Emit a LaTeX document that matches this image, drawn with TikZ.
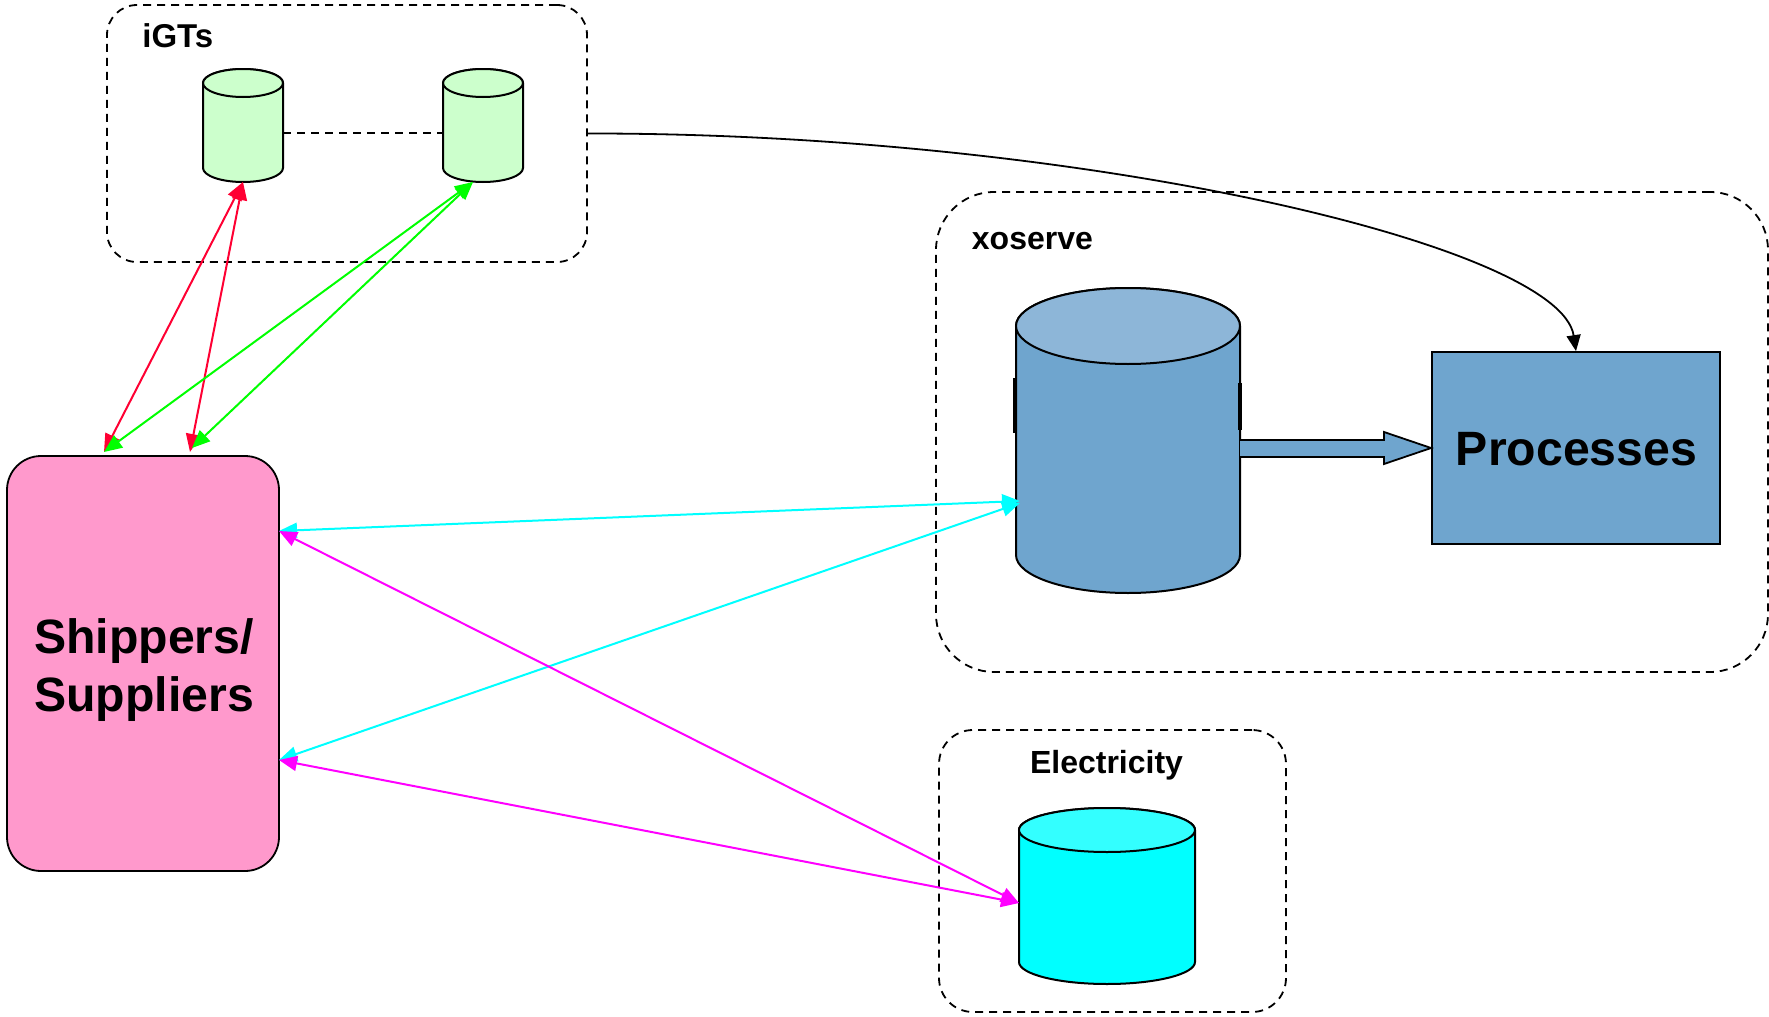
\documentclass[tikz,border=0pt]{standalone}
\usepackage{fontspec}
\setmainfont{Liberation Sans}
\usetikzlibrary{arrows.meta}
\definecolor{cgreen}{HTML}{CCFFCC}
\definecolor{cpink}{HTML}{FF99CC}
\definecolor{cblue}{HTML}{6FA5CE}
\definecolor{cbluetop}{HTML}{8DB6D8}
\definecolor{ccyan}{HTML}{00FFFF}
\definecolor{ccyantop}{HTML}{33FFFF}
\definecolor{cred}{HTML}{FF0033}
\definecolor{cgr}{HTML}{00FF00}
\definecolor{cmag}{HTML}{FF00FF}
\tikzset{
  grp/.style={draw=black,line width=0.9pt,dash pattern=on 4pt off 3pt,rounded corners=#1,inner sep=0pt},
  solidbox/.style={draw=black,line width=0.9pt,inner sep=0pt},
  bigtext/.style={inner sep=0pt,font=\bfseries\fontsize{24.1}{29}\selectfont,align=center},
  grplabel/.style={inner sep=0pt,font=\bfseries\fontsize{16}{19}\selectfont},
  link/.style={line width=1pt,{Triangle[length=9pt,width=7.5pt]}-{Triangle[length=9pt,width=7.5pt]},color=#1},
  cylline/.style={draw=black,line width=1pt},
}
% name, centre x, top-ellipse centre y, bottom-ellipse centre y, rx(pt), ry(pt), body, top
\newcommand{\mycyl}[8]{%
  \path[cylline,fill=#7] ([xshift=-#5pt]#2,#3) -- ([xshift=-#5pt]#2,#4)
     arc[start angle=180,end angle=360,x radius=#5pt,y radius=#6pt]
     -- ([xshift=#5pt]#2,#3)
     arc[start angle=0,end angle=180,x radius=#5pt,y radius=#6pt] -- cycle;
  \path[cylline,fill=#8] (#2,#3) ellipse[x radius=#5pt,y radius=#6pt];
  \node[inner sep=0pt,minimum width=2*#5pt,minimum height=1pt] (#1) at (#2,#3) {};
}
\begin{document}
\begin{tikzpicture}[x=0.5pt,y=-0.5pt]
\useasboundingbox (0,0) rectangle (1769,1017);
% groups
\node[grp=15pt,minimum width=240pt,minimum height=128.5pt] (igts) at (347,133.5) {};
\node[grp=29pt,minimum width=416pt,minimum height=240pt] (xo) at (1352,432) {};
\node[grp=17pt,minimum width=173.5pt,minimum height=141pt] (elec) at (1112.5,871) {};
\node[grplabel,font=\bfseries\fontsize{16.5}{19}\selectfont,anchor=base west] (igtslabel) at (142,47) {iGTs};
\node[grplabel,anchor=base west] (xolabel) at (971.5,249) {xoserve};
\node[grplabel,anchor=base] (eleclabel) at (1106.5,773) {Electricity};
% cylinders
\mycyl{cA}{243}{83}{168}{20}{7}{cgreen}{cgreen}
\mycyl{cB}{483}{83}{168}{20}{7}{cgreen}{cgreen}
\mycyl{cX}{1128}{326}{555}{56}{19}{cblue}{cbluetop}
\mycyl{cE}{1107}{830}{962}{44}{11}{ccyan}{ccyantop}
\draw[line width=1.6pt] (1015,378) -- (1015,433);
\draw[line width=1.6pt] (1240,383) -- (1240,430);
% solid boxes
\node[solidbox,fill=cpink,rounded corners=17pt,minimum width=136pt,minimum height=207.5pt] (ship) at (143,663.5) {};
\node[bigtext] (shiptext) at (144,670) {Shippers/\\Suppliers};
\node[solidbox,fill=cblue,minimum width=144pt,minimum height=96pt] (proc) at (1576,448) {};
\node[bigtext] (proctext) at (1576.5,449.5) {Processes};
% block arrow
\draw[line width=0.9pt,fill=cblue] (1240,440) -- (1384,440) -- (1384,432) -- (proc.west) -- (1384,464) -- (1384,457) -- (1240,457);
% anchors of connectors
\coordinate (cAb) at (243,182);
\coordinate (cBb) at (473,182);
\coordinate (sR1) at (104,452);
\coordinate (sR2) at (190,452);
\coordinate (sG1) at (104,452);
\coordinate (sG2) at (192,448);
\coordinate (sU) at (279,531);
\coordinate (sL) at (279,760);
\coordinate (xT) at (1020,501);
\coordinate (xB) at (1020,503);
\coordinate (eT) at (1019,903);
\coordinate (cAr) at (283,133);
\coordinate (cBl) at (443,133);
\coordinate (ca) at (1080,133);
\coordinate (cb) at (1560,245);
% connectors
\draw[line width=0.9pt,dash pattern=on 4pt off 3pt] (cAr) -- (cBl);
\draw[line width=0.9pt,-{Triangle[length=8pt,width=7pt]}] (igts.east) .. controls (ca) and (cb) .. (proc.north);
\draw[link=cred] (sR1) -- (cAb);
\draw[link=cred] (sR2) -- (cAb);
\draw[link=cgr] (sG1) -- (cBb);
\draw[link=cgr] (sG2) -- (cBb);
\draw[link=ccyan] (sU) -- (xT);
\draw[link=ccyan] (sL) -- (xB);
\draw[link=cmag] (sU) -- (eT);
\draw[link=cmag] (sL) -- (eT);
\end{tikzpicture}
\end{document}
